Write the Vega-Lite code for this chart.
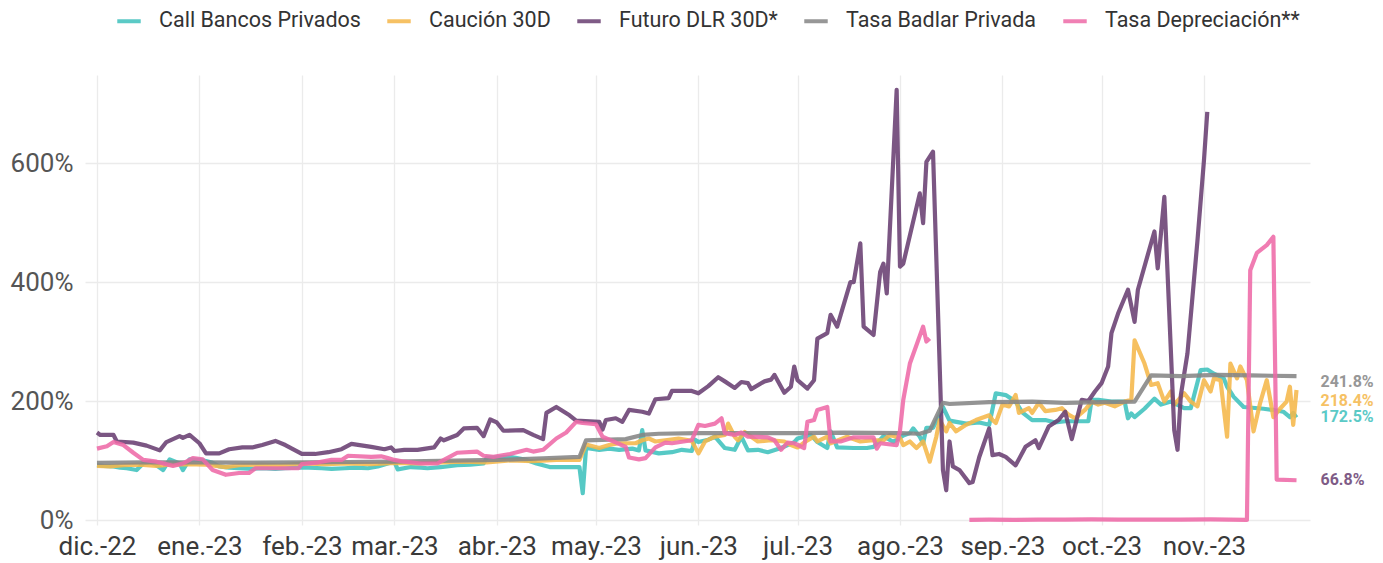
{
"$schema": "https://vega.github.io/schema/vega-lite/v6.json",
"width": 1225, "height": 450,
"autosize": {"type": "none"},
"padding": {"left": 85, "top": 75, "right": 73, "bottom": 38},
"background": "white",
"config": {"font": "Roboto", "view": {"stroke": null}},
"datasets": {
"series": [
{"fecha":"2022-12-01","serie":"Call Bancos Privados","valor":92},
{"fecha":"2022-12-03","serie":"Call Bancos Privados","valor":91},
{"fecha":"2022-12-06","serie":"Call Bancos Privados","valor":90},
{"fecha":"2022-12-08","serie":"Call Bancos Privados","valor":88},
{"fecha":"2022-12-10","serie":"Call Bancos Privados","valor":87},
{"fecha":"2022-12-13","serie":"Call Bancos Privados","valor":84},
{"fecha":"2022-12-15","serie":"Call Bancos Privados","valor":95},
{"fecha":"2022-12-17","serie":"Call Bancos Privados","valor":98},
{"fecha":"2022-12-19","serie":"Call Bancos Privados","valor":92},
{"fecha":"2022-12-21","serie":"Call Bancos Privados","valor":84},
{"fecha":"2022-12-23","serie":"Call Bancos Privados","valor":102},
{"fecha":"2022-12-26","serie":"Call Bancos Privados","valor":95},
{"fecha":"2022-12-27","serie":"Call Bancos Privados","valor":84},
{"fecha":"2022-12-29","serie":"Call Bancos Privados","valor":102},
{"fecha":"2023-01-01","serie":"Call Bancos Privados","valor":101},
{"fecha":"2023-01-03","serie":"Call Bancos Privados","valor":99},
{"fecha":"2023-01-05","serie":"Call Bancos Privados","valor":96},
{"fecha":"2023-01-07","serie":"Call Bancos Privados","valor":90},
{"fecha":"2023-01-10","serie":"Call Bancos Privados","valor":88},
{"fecha":"2023-01-13","serie":"Call Bancos Privados","valor":87},
{"fecha":"2023-01-17","serie":"Call Bancos Privados","valor":86},
{"fecha":"2023-01-20","serie":"Call Bancos Privados","valor":87},
{"fecha":"2023-01-24","serie":"Call Bancos Privados","valor":86},
{"fecha":"2023-01-27","serie":"Call Bancos Privados","valor":87},
{"fecha":"2023-01-31","serie":"Call Bancos Privados","valor":88},
{"fecha":"2023-02-03","serie":"Call Bancos Privados","valor":88},
{"fecha":"2023-02-07","serie":"Call Bancos Privados","valor":87},
{"fecha":"2023-02-10","serie":"Call Bancos Privados","valor":86},
{"fecha":"2023-02-14","serie":"Call Bancos Privados","valor":87},
{"fecha":"2023-02-17","serie":"Call Bancos Privados","valor":88},
{"fecha":"2023-02-21","serie":"Call Bancos Privados","valor":87},
{"fecha":"2023-02-24","serie":"Call Bancos Privados","valor":90},
{"fecha":"2023-02-27","serie":"Call Bancos Privados","valor":95},
{"fecha":"2023-03-01","serie":"Call Bancos Privados","valor":98},
{"fecha":"2023-03-02","serie":"Call Bancos Privados","valor":85},
{"fecha":"2023-03-06","serie":"Call Bancos Privados","valor":89},
{"fecha":"2023-03-09","serie":"Call Bancos Privados","valor":88},
{"fecha":"2023-03-11","serie":"Call Bancos Privados","valor":87},
{"fecha":"2023-03-15","serie":"Call Bancos Privados","valor":89},
{"fecha":"2023-03-20","serie":"Call Bancos Privados","valor":92},
{"fecha":"2023-03-24","serie":"Call Bancos Privados","valor":93},
{"fecha":"2023-03-28","serie":"Call Bancos Privados","valor":95},
{"fecha":"2023-03-29","serie":"Call Bancos Privados","valor":105},
{"fecha":"2023-04-05","serie":"Call Bancos Privados","valor":106},
{"fecha":"2023-04-10","serie":"Call Bancos Privados","valor":101},
{"fecha":"2023-04-13","serie":"Call Bancos Privados","valor":95},
{"fecha":"2023-04-17","serie":"Call Bancos Privados","valor":89},
{"fecha":"2023-04-23","serie":"Call Bancos Privados","valor":89},
{"fecha":"2023-04-26","serie":"Call Bancos Privados","valor":89},
{"fecha":"2023-04-27","serie":"Call Bancos Privados","valor":45},
{"fecha":"2023-04-28","serie":"Call Bancos Privados","valor":121},
{"fecha":"2023-05-02","serie":"Call Bancos Privados","valor":118},
{"fecha":"2023-05-05","serie":"Call Bancos Privados","valor":120},
{"fecha":"2023-05-08","serie":"Call Bancos Privados","valor":118},
{"fecha":"2023-05-12","serie":"Call Bancos Privados","valor":120},
{"fecha":"2023-05-14","serie":"Call Bancos Privados","valor":117},
{"fecha":"2023-05-15","serie":"Call Bancos Privados","valor":151},
{"fecha":"2023-05-16","serie":"Call Bancos Privados","valor":117},
{"fecha":"2023-05-20","serie":"Call Bancos Privados","valor":112},
{"fecha":"2023-05-24","serie":"Call Bancos Privados","valor":114},
{"fecha":"2023-05-27","serie":"Call Bancos Privados","valor":118},
{"fecha":"2023-05-30","serie":"Call Bancos Privados","valor":116},
{"fecha":"2023-05-31","serie":"Call Bancos Privados","valor":135},
{"fecha":"2023-06-01","serie":"Call Bancos Privados","valor":131},
{"fecha":"2023-06-04","serie":"Call Bancos Privados","valor":135},
{"fecha":"2023-06-06","serie":"Call Bancos Privados","valor":140},
{"fecha":"2023-06-09","serie":"Call Bancos Privados","valor":121},
{"fecha":"2023-06-12","serie":"Call Bancos Privados","valor":118},
{"fecha":"2023-06-14","serie":"Call Bancos Privados","valor":140},
{"fecha":"2023-06-16","serie":"Call Bancos Privados","valor":117},
{"fecha":"2023-06-19","serie":"Call Bancos Privados","valor":118},
{"fecha":"2023-06-22","serie":"Call Bancos Privados","valor":114},
{"fecha":"2023-06-26","serie":"Call Bancos Privados","valor":121},
{"fecha":"2023-06-30","serie":"Call Bancos Privados","valor":131},
{"fecha":"2023-07-01","serie":"Call Bancos Privados","valor":137},
{"fecha":"2023-07-05","serie":"Call Bancos Privados","valor":143},
{"fecha":"2023-07-07","serie":"Call Bancos Privados","valor":131},
{"fecha":"2023-07-10","serie":"Call Bancos Privados","valor":121},
{"fecha":"2023-07-11","serie":"Call Bancos Privados","valor":149},
{"fecha":"2023-07-13","serie":"Call Bancos Privados","valor":122},
{"fecha":"2023-07-18","serie":"Call Bancos Privados","valor":121},
{"fecha":"2023-07-22","serie":"Call Bancos Privados","valor":121},
{"fecha":"2023-07-24","serie":"Call Bancos Privados","valor":123},
{"fecha":"2023-07-27","serie":"Call Bancos Privados","valor":141},
{"fecha":"2023-07-30","serie":"Call Bancos Privados","valor":131},
{"fecha":"2023-08-02","serie":"Call Bancos Privados","valor":142},
{"fecha":"2023-08-04","serie":"Call Bancos Privados","valor":146},
{"fecha":"2023-08-05","serie":"Call Bancos Privados","valor":154},
{"fecha":"2023-08-07","serie":"Call Bancos Privados","valor":140},
{"fecha":"2023-08-08","serie":"Call Bancos Privados","valor":129},
{"fecha":"2023-08-09","serie":"Call Bancos Privados","valor":155},
{"fecha":"2023-08-11","serie":"Call Bancos Privados","valor":155},
{"fecha":"2023-08-13","serie":"Call Bancos Privados","valor":177},
{"fecha":"2023-08-14","serie":"Call Bancos Privados","valor":190},
{"fecha":"2023-08-16","serie":"Call Bancos Privados","valor":167},
{"fecha":"2023-08-21","serie":"Call Bancos Privados","valor":162},
{"fecha":"2023-08-25","serie":"Call Bancos Privados","valor":164},
{"fecha":"2023-08-28","serie":"Call Bancos Privados","valor":160},
{"fecha":"2023-08-30","serie":"Call Bancos Privados","valor":213},
{"fecha":"2023-09-02","serie":"Call Bancos Privados","valor":210},
{"fecha":"2023-09-05","serie":"Call Bancos Privados","valor":199},
{"fecha":"2023-09-07","serie":"Call Bancos Privados","valor":181},
{"fecha":"2023-09-10","serie":"Call Bancos Privados","valor":168},
{"fecha":"2023-09-14","serie":"Call Bancos Privados","valor":168},
{"fecha":"2023-09-17","serie":"Call Bancos Privados","valor":164},
{"fecha":"2023-09-20","serie":"Call Bancos Privados","valor":166},
{"fecha":"2023-09-24","serie":"Call Bancos Privados","valor":166},
{"fecha":"2023-09-27","serie":"Call Bancos Privados","valor":166},
{"fecha":"2023-09-28","serie":"Call Bancos Privados","valor":202},
{"fecha":"2023-09-30","serie":"Call Bancos Privados","valor":202},
{"fecha":"2023-10-04","serie":"Call Bancos Privados","valor":199},
{"fecha":"2023-10-08","serie":"Call Bancos Privados","valor":199},
{"fecha":"2023-10-09","serie":"Call Bancos Privados","valor":171},
{"fecha":"2023-10-10","serie":"Call Bancos Privados","valor":179},
{"fecha":"2023-10-11","serie":"Call Bancos Privados","valor":173},
{"fecha":"2023-10-14","serie":"Call Bancos Privados","valor":187},
{"fecha":"2023-10-17","serie":"Call Bancos Privados","valor":204},
{"fecha":"2023-10-19","serie":"Call Bancos Privados","valor":194},
{"fecha":"2023-10-22","serie":"Call Bancos Privados","valor":199},
{"fecha":"2023-10-26","serie":"Call Bancos Privados","valor":188},
{"fecha":"2023-10-28","serie":"Call Bancos Privados","valor":188},
{"fecha":"2023-10-31","serie":"Call Bancos Privados","valor":252},
{"fecha":"2023-11-02","serie":"Call Bancos Privados","valor":253},
{"fecha":"2023-11-04","serie":"Call Bancos Privados","valor":246},
{"fecha":"2023-11-07","serie":"Call Bancos Privados","valor":238},
{"fecha":"2023-11-08","serie":"Call Bancos Privados","valor":224},
{"fecha":"2023-11-10","serie":"Call Bancos Privados","valor":207},
{"fecha":"2023-11-13","serie":"Call Bancos Privados","valor":190},
{"fecha":"2023-11-19","serie":"Call Bancos Privados","valor":187},
{"fecha":"2023-11-22","serie":"Call Bancos Privados","valor":185},
{"fecha":"2023-11-25","serie":"Call Bancos Privados","valor":182},
{"fecha":"2023-11-27","serie":"Call Bancos Privados","valor":173},
{"fecha":"2023-11-28","serie":"Call Bancos Privados","valor":180},
{"fecha":"2023-11-29","serie":"Call Bancos Privados","valor":172.5},

{"fecha":"2022-12-01","serie":"Caución 30D","valor":91},
{"fecha":"2022-12-05","serie":"Caución 30D","valor":90},
{"fecha":"2022-12-09","serie":"Caución 30D","valor":92},
{"fecha":"2022-12-14","serie":"Caución 30D","valor":93},
{"fecha":"2022-12-19","serie":"Caución 30D","valor":91},
{"fecha":"2022-12-23","serie":"Caución 30D","valor":93},
{"fecha":"2022-12-28","serie":"Caución 30D","valor":94},
{"fecha":"2023-01-03","serie":"Caución 30D","valor":93},
{"fecha":"2023-01-09","serie":"Caución 30D","valor":89},
{"fecha":"2023-01-13","serie":"Caución 30D","valor":92},
{"fecha":"2023-01-19","serie":"Caución 30D","valor":93},
{"fecha":"2023-01-25","serie":"Caución 30D","valor":92},
{"fecha":"2023-02-01","serie":"Caución 30D","valor":95},
{"fecha":"2023-02-08","serie":"Caución 30D","valor":94},
{"fecha":"2023-02-15","serie":"Caución 30D","valor":95},
{"fecha":"2023-02-22","serie":"Caución 30D","valor":94},
{"fecha":"2023-03-01","serie":"Caución 30D","valor":96},
{"fecha":"2023-03-08","serie":"Caución 30D","valor":95},
{"fecha":"2023-03-15","serie":"Caución 30D","valor":97},
{"fecha":"2023-03-22","serie":"Caución 30D","valor":98},
{"fecha":"2023-03-29","serie":"Caución 30D","valor":97},
{"fecha":"2023-04-05","serie":"Caución 30D","valor":100},
{"fecha":"2023-04-12","serie":"Caución 30D","valor":99},
{"fecha":"2023-04-19","serie":"Caución 30D","valor":101},
{"fecha":"2023-04-26","serie":"Caución 30D","valor":101},
{"fecha":"2023-04-28","serie":"Caución 30D","valor":127},
{"fecha":"2023-05-02","serie":"Caución 30D","valor":121},
{"fecha":"2023-05-05","serie":"Caución 30D","valor":126},
{"fecha":"2023-05-08","serie":"Caución 30D","valor":129},
{"fecha":"2023-05-13","serie":"Caución 30D","valor":129},
{"fecha":"2023-05-15","serie":"Caución 30D","valor":134},
{"fecha":"2023-05-17","serie":"Caución 30D","valor":137},
{"fecha":"2023-05-19","serie":"Caución 30D","valor":132},
{"fecha":"2023-05-22","serie":"Caución 30D","valor":134},
{"fecha":"2023-05-26","serie":"Caución 30D","valor":137},
{"fecha":"2023-05-30","serie":"Caución 30D","valor":133},
{"fecha":"2023-06-01","serie":"Caución 30D","valor":112},
{"fecha":"2023-06-03","serie":"Caución 30D","valor":132},
{"fecha":"2023-06-06","serie":"Caución 30D","valor":140},
{"fecha":"2023-06-09","serie":"Caución 30D","valor":143},
{"fecha":"2023-06-10","serie":"Caución 30D","valor":162},
{"fecha":"2023-06-12","serie":"Caución 30D","valor":140},
{"fecha":"2023-06-13","serie":"Caución 30D","valor":134},
{"fecha":"2023-06-15","serie":"Caución 30D","valor":148},
{"fecha":"2023-06-19","serie":"Caución 30D","valor":132},
{"fecha":"2023-06-23","serie":"Caución 30D","valor":134},
{"fecha":"2023-06-27","serie":"Caución 30D","valor":132},
{"fecha":"2023-06-29","serie":"Caución 30D","valor":126},
{"fecha":"2023-07-01","serie":"Caución 30D","valor":122},
{"fecha":"2023-07-04","serie":"Caución 30D","valor":134},
{"fecha":"2023-07-06","serie":"Caución 30D","valor":140},
{"fecha":"2023-07-07","serie":"Caución 30D","valor":132},
{"fecha":"2023-07-10","serie":"Caución 30D","valor":140},
{"fecha":"2023-07-11","serie":"Caución 30D","valor":129},
{"fecha":"2023-07-16","serie":"Caución 30D","valor":140},
{"fecha":"2023-07-20","serie":"Caución 30D","valor":132},
{"fecha":"2023-07-24","serie":"Caución 30D","valor":134},
{"fecha":"2023-07-27","serie":"Caución 30D","valor":134},
{"fecha":"2023-07-29","serie":"Caución 30D","valor":143},
{"fecha":"2023-08-01","serie":"Caución 30D","valor":138},
{"fecha":"2023-08-02","serie":"Caución 30D","valor":126},
{"fecha":"2023-08-04","serie":"Caución 30D","valor":132},
{"fecha":"2023-08-06","serie":"Caución 30D","valor":121},
{"fecha":"2023-08-08","serie":"Caución 30D","valor":132},
{"fecha":"2023-08-10","serie":"Caución 30D","valor":98},
{"fecha":"2023-08-12","serie":"Caución 30D","valor":140},
{"fecha":"2023-08-13","serie":"Caución 30D","valor":168},
{"fecha":"2023-08-15","serie":"Caución 30D","valor":149},
{"fecha":"2023-08-16","serie":"Caución 30D","valor":163},
{"fecha":"2023-08-18","serie":"Caución 30D","valor":149},
{"fecha":"2023-08-21","serie":"Caución 30D","valor":160},
{"fecha":"2023-08-24","serie":"Caución 30D","valor":168},
{"fecha":"2023-08-28","serie":"Caución 30D","valor":176},
{"fecha":"2023-08-29","serie":"Caución 30D","valor":168},
{"fecha":"2023-08-30","serie":"Caución 30D","valor":163},
{"fecha":"2023-09-01","serie":"Caución 30D","valor":194},
{"fecha":"2023-09-03","serie":"Caución 30D","valor":191},
{"fecha":"2023-09-05","serie":"Caución 30D","valor":210},
{"fecha":"2023-09-06","serie":"Caución 30D","valor":180},
{"fecha":"2023-09-09","serie":"Caución 30D","valor":188},
{"fecha":"2023-09-10","serie":"Caución 30D","valor":180},
{"fecha":"2023-09-12","serie":"Caución 30D","valor":197},
{"fecha":"2023-09-14","serie":"Caución 30D","valor":183},
{"fecha":"2023-09-17","serie":"Caución 30D","valor":185},
{"fecha":"2023-09-19","serie":"Caución 30D","valor":188},
{"fecha":"2023-09-21","serie":"Caución 30D","valor":177},
{"fecha":"2023-09-23","serie":"Caución 30D","valor":171},
{"fecha":"2023-09-26","serie":"Caución 30D","valor":185},
{"fecha":"2023-09-28","serie":"Caución 30D","valor":199},
{"fecha":"2023-09-30","serie":"Caución 30D","valor":194},
{"fecha":"2023-10-02","serie":"Caución 30D","valor":197},
{"fecha":"2023-10-05","serie":"Caución 30D","valor":191},
{"fecha":"2023-10-08","serie":"Caución 30D","valor":199},
{"fecha":"2023-10-10","serie":"Caución 30D","valor":202},
{"fecha":"2023-10-11","serie":"Caución 30D","valor":302},
{"fecha":"2023-10-14","serie":"Caución 30D","valor":263},
{"fecha":"2023-10-16","serie":"Caución 30D","valor":227},
{"fecha":"2023-10-18","serie":"Caución 30D","valor":230},
{"fecha":"2023-10-20","serie":"Caución 30D","valor":199},
{"fecha":"2023-10-22","serie":"Caución 30D","valor":216},
{"fecha":"2023-10-23","serie":"Caución 30D","valor":194},
{"fecha":"2023-10-26","serie":"Caución 30D","valor":213},
{"fecha":"2023-10-28","serie":"Caución 30D","valor":199},
{"fecha":"2023-10-30","serie":"Caución 30D","valor":191},
{"fecha":"2023-11-01","serie":"Caución 30D","valor":235},
{"fecha":"2023-11-03","serie":"Caución 30D","valor":216},
{"fecha":"2023-11-04","serie":"Caución 30D","valor":238},
{"fecha":"2023-11-06","serie":"Caución 30D","valor":235},
{"fecha":"2023-11-08","serie":"Caución 30D","valor":140},
{"fecha":"2023-11-09","serie":"Caución 30D","valor":263},
{"fecha":"2023-11-11","serie":"Caución 30D","valor":238},
{"fecha":"2023-11-12","serie":"Caución 30D","valor":258},
{"fecha":"2023-11-14","serie":"Caución 30D","valor":235},
{"fecha":"2023-11-16","serie":"Caución 30D","valor":149},
{"fecha":"2023-11-18","serie":"Caución 30D","valor":197},
{"fecha":"2023-11-20","serie":"Caución 30D","valor":235},
{"fecha":"2023-11-22","serie":"Caución 30D","valor":173},
{"fecha":"2023-11-24","serie":"Caución 30D","valor":187},
{"fecha":"2023-11-26","serie":"Caución 30D","valor":199},
{"fecha":"2023-11-27","serie":"Caución 30D","valor":224},
{"fecha":"2023-11-28","serie":"Caución 30D","valor":160},
{"fecha":"2023-11-29","serie":"Caución 30D","valor":218.4},

{"fecha":"2022-12-01","serie":"Futuro DLR 30D*","valor":147},
{"fecha":"2022-12-02","serie":"Futuro DLR 30D*","valor":143},
{"fecha":"2022-12-06","serie":"Futuro DLR 30D*","valor":143},
{"fecha":"2022-12-07","serie":"Futuro DLR 30D*","valor":132},
{"fecha":"2022-12-12","serie":"Futuro DLR 30D*","valor":130},
{"fecha":"2022-12-16","serie":"Futuro DLR 30D*","valor":125},
{"fecha":"2022-12-20","serie":"Futuro DLR 30D*","valor":117},
{"fecha":"2022-12-22","serie":"Futuro DLR 30D*","valor":131},
{"fecha":"2022-12-26","serie":"Futuro DLR 30D*","valor":141},
{"fecha":"2022-12-27","serie":"Futuro DLR 30D*","valor":138},
{"fecha":"2022-12-29","serie":"Futuro DLR 30D*","valor":143},
{"fecha":"2023-01-01","serie":"Futuro DLR 30D*","valor":129},
{"fecha":"2023-01-03","serie":"Futuro DLR 30D*","valor":112},
{"fecha":"2023-01-07","serie":"Futuro DLR 30D*","valor":112},
{"fecha":"2023-01-10","serie":"Futuro DLR 30D*","valor":119},
{"fecha":"2023-01-14","serie":"Futuro DLR 30D*","valor":122},
{"fecha":"2023-01-17","serie":"Futuro DLR 30D*","valor":122},
{"fecha":"2023-01-20","serie":"Futuro DLR 30D*","valor":126},
{"fecha":"2023-01-24","serie":"Futuro DLR 30D*","valor":133},
{"fecha":"2023-01-27","serie":"Futuro DLR 30D*","valor":126},
{"fecha":"2023-02-01","serie":"Futuro DLR 30D*","valor":111},
{"fecha":"2023-02-05","serie":"Futuro DLR 30D*","valor":111},
{"fecha":"2023-02-09","serie":"Futuro DLR 30D*","valor":114},
{"fecha":"2023-02-13","serie":"Futuro DLR 30D*","valor":119},
{"fecha":"2023-02-16","serie":"Futuro DLR 30D*","valor":128},
{"fecha":"2023-02-22","serie":"Futuro DLR 30D*","valor":123},
{"fecha":"2023-02-26","serie":"Futuro DLR 30D*","valor":119},
{"fecha":"2023-02-28","serie":"Futuro DLR 30D*","valor":122},
{"fecha":"2023-03-01","serie":"Futuro DLR 30D*","valor":116},
{"fecha":"2023-03-04","serie":"Futuro DLR 30D*","valor":118},
{"fecha":"2023-03-08","serie":"Futuro DLR 30D*","valor":118},
{"fecha":"2023-03-13","serie":"Futuro DLR 30D*","valor":122},
{"fecha":"2023-03-15","serie":"Futuro DLR 30D*","valor":137},
{"fecha":"2023-03-16","serie":"Futuro DLR 30D*","valor":134},
{"fecha":"2023-03-20","serie":"Futuro DLR 30D*","valor":143},
{"fecha":"2023-03-22","serie":"Futuro DLR 30D*","valor":154},
{"fecha":"2023-03-26","serie":"Futuro DLR 30D*","valor":155},
{"fecha":"2023-03-28","serie":"Futuro DLR 30D*","valor":141},
{"fecha":"2023-03-30","serie":"Futuro DLR 30D*","valor":169},
{"fecha":"2023-04-01","serie":"Futuro DLR 30D*","valor":164},
{"fecha":"2023-04-03","serie":"Futuro DLR 30D*","valor":150},
{"fecha":"2023-04-09","serie":"Futuro DLR 30D*","valor":151},
{"fecha":"2023-04-12","serie":"Futuro DLR 30D*","valor":143},
{"fecha":"2023-04-15","serie":"Futuro DLR 30D*","valor":136},
{"fecha":"2023-04-16","serie":"Futuro DLR 30D*","valor":180},
{"fecha":"2023-04-19","serie":"Futuro DLR 30D*","valor":190},
{"fecha":"2023-04-23","serie":"Futuro DLR 30D*","valor":176},
{"fecha":"2023-04-25","serie":"Futuro DLR 30D*","valor":167},
{"fecha":"2023-05-02","serie":"Futuro DLR 30D*","valor":165},
{"fecha":"2023-05-03","serie":"Futuro DLR 30D*","valor":152},
{"fecha":"2023-05-04","serie":"Futuro DLR 30D*","valor":168},
{"fecha":"2023-05-07","serie":"Futuro DLR 30D*","valor":171},
{"fecha":"2023-05-09","serie":"Futuro DLR 30D*","valor":165},
{"fecha":"2023-05-11","serie":"Futuro DLR 30D*","valor":185},
{"fecha":"2023-05-15","serie":"Futuro DLR 30D*","valor":182},
{"fecha":"2023-05-17","serie":"Futuro DLR 30D*","valor":179},
{"fecha":"2023-05-19","serie":"Futuro DLR 30D*","valor":203},
{"fecha":"2023-05-23","serie":"Futuro DLR 30D*","valor":205},
{"fecha":"2023-05-24","serie":"Futuro DLR 30D*","valor":217},
{"fecha":"2023-05-30","serie":"Futuro DLR 30D*","valor":217},
{"fecha":"2023-06-01","serie":"Futuro DLR 30D*","valor":213},
{"fecha":"2023-06-04","serie":"Futuro DLR 30D*","valor":225},
{"fecha":"2023-06-07","serie":"Futuro DLR 30D*","valor":240},
{"fecha":"2023-06-09","serie":"Futuro DLR 30D*","valor":233},
{"fecha":"2023-06-12","serie":"Futuro DLR 30D*","valor":222},
{"fecha":"2023-06-14","serie":"Futuro DLR 30D*","valor":232},
{"fecha":"2023-06-16","serie":"Futuro DLR 30D*","valor":230},
{"fecha":"2023-06-17","serie":"Futuro DLR 30D*","valor":220},
{"fecha":"2023-06-21","serie":"Futuro DLR 30D*","valor":233},
{"fecha":"2023-06-23","serie":"Futuro DLR 30D*","valor":236},
{"fecha":"2023-06-24","serie":"Futuro DLR 30D*","valor":244},
{"fecha":"2023-06-27","serie":"Futuro DLR 30D*","valor":214},
{"fecha":"2023-06-29","serie":"Futuro DLR 30D*","valor":224},
{"fecha":"2023-06-30","serie":"Futuro DLR 30D*","valor":258},
{"fecha":"2023-07-01","serie":"Futuro DLR 30D*","valor":235},
{"fecha":"2023-07-04","serie":"Futuro DLR 30D*","valor":221},
{"fecha":"2023-07-06","serie":"Futuro DLR 30D*","valor":235},
{"fecha":"2023-07-07","serie":"Futuro DLR 30D*","valor":305},
{"fecha":"2023-07-10","serie":"Futuro DLR 30D*","valor":314},
{"fecha":"2023-07-11","serie":"Futuro DLR 30D*","valor":345},
{"fecha":"2023-07-13","serie":"Futuro DLR 30D*","valor":325},
{"fecha":"2023-07-17","serie":"Futuro DLR 30D*","valor":400},
{"fecha":"2023-07-18","serie":"Futuro DLR 30D*","valor":400},
{"fecha":"2023-07-20","serie":"Futuro DLR 30D*","valor":465},
{"fecha":"2023-07-21","serie":"Futuro DLR 30D*","valor":325},
{"fecha":"2023-07-24","serie":"Futuro DLR 30D*","valor":311},
{"fecha":"2023-07-26","serie":"Futuro DLR 30D*","valor":417},
{"fecha":"2023-07-27","serie":"Futuro DLR 30D*","valor":431},
{"fecha":"2023-07-28","serie":"Futuro DLR 30D*","valor":381},
{"fecha":"2023-07-31","serie":"Futuro DLR 30D*","valor":723},
{"fecha":"2023-08-01","serie":"Futuro DLR 30D*","valor":426},
{"fecha":"2023-08-02","serie":"Futuro DLR 30D*","valor":431},
{"fecha":"2023-08-07","serie":"Futuro DLR 30D*","valor":549},
{"fecha":"2023-08-08","serie":"Futuro DLR 30D*","valor":499},
{"fecha":"2023-08-09","serie":"Futuro DLR 30D*","valor":602},
{"fecha":"2023-08-11","serie":"Futuro DLR 30D*","valor":619},
{"fecha":"2023-08-14","serie":"Futuro DLR 30D*","valor":84},
{"fecha":"2023-08-15","serie":"Futuro DLR 30D*","valor":50},
{"fecha":"2023-08-16","serie":"Futuro DLR 30D*","valor":132},
{"fecha":"2023-08-17","serie":"Futuro DLR 30D*","valor":90},
{"fecha":"2023-08-19","serie":"Futuro DLR 30D*","valor":84},
{"fecha":"2023-08-22","serie":"Futuro DLR 30D*","valor":62},
{"fecha":"2023-08-23","serie":"Futuro DLR 30D*","valor":64},
{"fecha":"2023-08-25","serie":"Futuro DLR 30D*","valor":106},
{"fecha":"2023-08-28","serie":"Futuro DLR 30D*","valor":154},
{"fecha":"2023-08-29","serie":"Futuro DLR 30D*","valor":109},
{"fecha":"2023-08-31","serie":"Futuro DLR 30D*","valor":111},
{"fecha":"2023-09-02","serie":"Futuro DLR 30D*","valor":106},
{"fecha":"2023-09-05","serie":"Futuro DLR 30D*","valor":92},
{"fecha":"2023-09-08","serie":"Futuro DLR 30D*","valor":123},
{"fecha":"2023-09-11","serie":"Futuro DLR 30D*","valor":134},
{"fecha":"2023-09-12","serie":"Futuro DLR 30D*","valor":121},
{"fecha":"2023-09-15","serie":"Futuro DLR 30D*","valor":157},
{"fecha":"2023-09-18","serie":"Futuro DLR 30D*","valor":168},
{"fecha":"2023-09-20","serie":"Futuro DLR 30D*","valor":182},
{"fecha":"2023-09-22","serie":"Futuro DLR 30D*","valor":136},
{"fecha":"2023-09-25","serie":"Futuro DLR 30D*","valor":202},
{"fecha":"2023-09-27","serie":"Futuro DLR 30D*","valor":200},
{"fecha":"2023-09-29","serie":"Futuro DLR 30D*","valor":216},
{"fecha":"2023-10-01","serie":"Futuro DLR 30D*","valor":230},
{"fecha":"2023-10-03","serie":"Futuro DLR 30D*","valor":258},
{"fecha":"2023-10-04","serie":"Futuro DLR 30D*","valor":314},
{"fecha":"2023-10-06","serie":"Futuro DLR 30D*","valor":347},
{"fecha":"2023-10-09","serie":"Futuro DLR 30D*","valor":387},
{"fecha":"2023-10-11","serie":"Futuro DLR 30D*","valor":333},
{"fecha":"2023-10-12","serie":"Futuro DLR 30D*","valor":387},
{"fecha":"2023-10-17","serie":"Futuro DLR 30D*","valor":485},
{"fecha":"2023-10-18","serie":"Futuro DLR 30D*","valor":423},
{"fecha":"2023-10-20","serie":"Futuro DLR 30D*","valor":543},
{"fecha":"2023-10-23","serie":"Futuro DLR 30D*","valor":151},
{"fecha":"2023-10-24","serie":"Futuro DLR 30D*","valor":118},
{"fecha":"2023-10-25","serie":"Futuro DLR 30D*","valor":210},
{"fecha":"2023-10-27","serie":"Futuro DLR 30D*","valor":280},
{"fecha":"2023-10-30","serie":"Futuro DLR 30D*","valor":468},
{"fecha":"2023-11-01","serie":"Futuro DLR 30D*","valor":605},
{"fecha":"2023-11-02","serie":"Futuro DLR 30D*","valor":686},

{"fecha":"2022-12-01","serie":"Tasa Badlar Privada","valor":96},
{"fecha":"2022-12-15","serie":"Tasa Badlar Privada","valor":97},
{"fecha":"2023-01-01","serie":"Tasa Badlar Privada","valor":97},
{"fecha":"2023-01-15","serie":"Tasa Badlar Privada","valor":96.5},
{"fecha":"2023-02-01","serie":"Tasa Badlar Privada","valor":97},
{"fecha":"2023-02-15","serie":"Tasa Badlar Privada","valor":97.5},
{"fecha":"2023-03-01","serie":"Tasa Badlar Privada","valor":98},
{"fecha":"2023-03-15","serie":"Tasa Badlar Privada","valor":99.5},
{"fecha":"2023-04-01","serie":"Tasa Badlar Privada","valor":101},
{"fecha":"2023-04-15","serie":"Tasa Badlar Privada","valor":103.5},
{"fecha":"2023-04-26","serie":"Tasa Badlar Privada","valor":106},
{"fecha":"2023-04-28","serie":"Tasa Badlar Privada","valor":134},
{"fecha":"2023-05-10","serie":"Tasa Badlar Privada","valor":136},
{"fecha":"2023-05-15","serie":"Tasa Badlar Privada","valor":143},
{"fecha":"2023-05-20","serie":"Tasa Badlar Privada","valor":145},
{"fecha":"2023-06-01","serie":"Tasa Badlar Privada","valor":146},
{"fecha":"2023-06-15","serie":"Tasa Badlar Privada","valor":146},
{"fecha":"2023-07-01","serie":"Tasa Badlar Privada","valor":146},
{"fecha":"2023-07-15","serie":"Tasa Badlar Privada","valor":147},
{"fecha":"2023-08-01","serie":"Tasa Badlar Privada","valor":146},
{"fecha":"2023-08-07","serie":"Tasa Badlar Privada","valor":145},
{"fecha":"2023-08-10","serie":"Tasa Badlar Privada","valor":150},
{"fecha":"2023-08-14","serie":"Tasa Badlar Privada","valor":197},
{"fecha":"2023-08-16","serie":"Tasa Badlar Privada","valor":195},
{"fecha":"2023-08-28","serie":"Tasa Badlar Privada","valor":198},
{"fecha":"2023-09-10","serie":"Tasa Badlar Privada","valor":199},
{"fecha":"2023-09-20","serie":"Tasa Badlar Privada","valor":197},
{"fecha":"2023-10-01","serie":"Tasa Badlar Privada","valor":198},
{"fecha":"2023-10-11","serie":"Tasa Badlar Privada","valor":199},
{"fecha":"2023-10-16","serie":"Tasa Badlar Privada","valor":243},
{"fecha":"2023-10-25","serie":"Tasa Badlar Privada","valor":242},
{"fecha":"2023-11-05","serie":"Tasa Badlar Privada","valor":244},
{"fecha":"2023-11-15","serie":"Tasa Badlar Privada","valor":243},
{"fecha":"2023-11-29","serie":"Tasa Badlar Privada","valor":241.8},

{"fecha":"2022-12-01","serie":"Tasa Depreciación**","valor":120,"tramo":1},
{"fecha":"2022-12-04","serie":"Tasa Depreciación**","valor":124,"tramo":1},
{"fecha":"2022-12-06","serie":"Tasa Depreciación**","valor":131,"tramo":1},
{"fecha":"2022-12-09","serie":"Tasa Depreciación**","valor":126,"tramo":1},
{"fecha":"2022-12-12","serie":"Tasa Depreciación**","valor":113,"tramo":1},
{"fecha":"2022-12-15","serie":"Tasa Depreciación**","valor":101,"tramo":1},
{"fecha":"2022-12-19","serie":"Tasa Depreciación**","valor":98,"tramo":1},
{"fecha":"2022-12-24","serie":"Tasa Depreciación**","valor":91,"tramo":1},
{"fecha":"2022-12-27","serie":"Tasa Depreciación**","valor":95,"tramo":1},
{"fecha":"2022-12-30","serie":"Tasa Depreciación**","valor":104,"tramo":1},
{"fecha":"2023-01-02","serie":"Tasa Depreciación**","valor":102,"tramo":1},
{"fecha":"2023-01-05","serie":"Tasa Depreciación**","valor":84,"tramo":1},
{"fecha":"2023-01-09","serie":"Tasa Depreciación**","valor":76,"tramo":1},
{"fecha":"2023-01-13","serie":"Tasa Depreciación**","valor":79,"tramo":1},
{"fecha":"2023-01-16","serie":"Tasa Depreciación**","valor":79,"tramo":1},
{"fecha":"2023-01-18","serie":"Tasa Depreciación**","valor":87,"tramo":1},
{"fecha":"2023-01-23","serie":"Tasa Depreciación**","valor":87,"tramo":1},
{"fecha":"2023-01-31","serie":"Tasa Depreciación**","valor":87,"tramo":1},
{"fecha":"2023-02-01","serie":"Tasa Depreciación**","valor":94,"tramo":1},
{"fecha":"2023-02-06","serie":"Tasa Depreciación**","valor":97,"tramo":1},
{"fecha":"2023-02-10","serie":"Tasa Depreciación**","valor":101,"tramo":1},
{"fecha":"2023-02-13","serie":"Tasa Depreciación**","valor":101,"tramo":1},
{"fecha":"2023-02-15","serie":"Tasa Depreciación**","valor":108,"tramo":1},
{"fecha":"2023-02-22","serie":"Tasa Depreciación**","valor":106,"tramo":1},
{"fecha":"2023-02-25","serie":"Tasa Depreciación**","valor":107,"tramo":1},
{"fecha":"2023-02-27","serie":"Tasa Depreciación**","valor":104,"tramo":1},
{"fecha":"2023-03-01","serie":"Tasa Depreciación**","valor":101,"tramo":1},
{"fecha":"2023-03-04","serie":"Tasa Depreciación**","valor":98,"tramo":1},
{"fecha":"2023-03-09","serie":"Tasa Depreciación**","valor":95,"tramo":1},
{"fecha":"2023-03-14","serie":"Tasa Depreciación**","valor":95,"tramo":1},
{"fecha":"2023-03-16","serie":"Tasa Depreciación**","valor":101,"tramo":1},
{"fecha":"2023-03-20","serie":"Tasa Depreciación**","valor":113,"tramo":1},
{"fecha":"2023-03-26","serie":"Tasa Depreciación**","valor":115,"tramo":1},
{"fecha":"2023-03-28","serie":"Tasa Depreciación**","valor":108,"tramo":1},
{"fecha":"2023-03-31","serie":"Tasa Depreciación**","valor":106,"tramo":1},
{"fecha":"2023-04-05","serie":"Tasa Depreciación**","valor":111,"tramo":1},
{"fecha":"2023-04-10","serie":"Tasa Depreciación**","valor":118,"tramo":1},
{"fecha":"2023-04-12","serie":"Tasa Depreciación**","valor":115,"tramo":1},
{"fecha":"2023-04-15","serie":"Tasa Depreciación**","valor":118,"tramo":1},
{"fecha":"2023-04-19","serie":"Tasa Depreciación**","valor":137,"tramo":1},
{"fecha":"2023-04-22","serie":"Tasa Depreciación**","valor":147,"tramo":1},
{"fecha":"2023-04-25","serie":"Tasa Depreciación**","valor":165,"tramo":1},
{"fecha":"2023-04-27","serie":"Tasa Depreciación**","valor":163,"tramo":1},
{"fecha":"2023-05-01","serie":"Tasa Depreciación**","valor":161,"tramo":1},
{"fecha":"2023-05-03","serie":"Tasa Depreciación**","valor":140,"tramo":1},
{"fecha":"2023-05-08","serie":"Tasa Depreciación**","valor":128,"tramo":1},
{"fecha":"2023-05-10","serie":"Tasa Depreciación**","valor":123,"tramo":1},
{"fecha":"2023-05-11","serie":"Tasa Depreciación**","valor":105,"tramo":1},
{"fecha":"2023-05-14","serie":"Tasa Depreciación**","valor":102,"tramo":1},
{"fecha":"2023-05-16","serie":"Tasa Depreciación**","valor":104,"tramo":1},
{"fecha":"2023-05-19","serie":"Tasa Depreciación**","valor":122,"tramo":1},
{"fecha":"2023-05-22","serie":"Tasa Depreciación**","valor":130,"tramo":1},
{"fecha":"2023-05-24","serie":"Tasa Depreciación**","valor":129,"tramo":1},
{"fecha":"2023-05-30","serie":"Tasa Depreciación**","valor":134,"tramo":1},
{"fecha":"2023-06-01","serie":"Tasa Depreciación**","valor":160,"tramo":1},
{"fecha":"2023-06-03","serie":"Tasa Depreciación**","valor":158,"tramo":1},
{"fecha":"2023-06-06","serie":"Tasa Depreciación**","valor":162,"tramo":1},
{"fecha":"2023-06-08","serie":"Tasa Depreciación**","valor":171,"tramo":1},
{"fecha":"2023-06-09","serie":"Tasa Depreciación**","valor":146,"tramo":1},
{"fecha":"2023-06-12","serie":"Tasa Depreciación**","valor":143,"tramo":1},
{"fecha":"2023-06-14","serie":"Tasa Depreciación**","valor":147,"tramo":1},
{"fecha":"2023-06-16","serie":"Tasa Depreciación**","valor":140,"tramo":1},
{"fecha":"2023-06-22","serie":"Tasa Depreciación**","valor":139,"tramo":1},
{"fecha":"2023-06-24","serie":"Tasa Depreciación**","valor":134,"tramo":1},
{"fecha":"2023-06-26","serie":"Tasa Depreciación**","valor":118,"tramo":1},
{"fecha":"2023-06-28","serie":"Tasa Depreciación**","valor":130,"tramo":1},
{"fecha":"2023-06-30","serie":"Tasa Depreciación**","valor":129,"tramo":1},
{"fecha":"2023-07-03","serie":"Tasa Depreciación**","valor":121,"tramo":1},
{"fecha":"2023-07-04","serie":"Tasa Depreciación**","valor":165,"tramo":1},
{"fecha":"2023-07-06","serie":"Tasa Depreciación**","valor":168,"tramo":1},
{"fecha":"2023-07-07","serie":"Tasa Depreciación**","valor":185,"tramo":1},
{"fecha":"2023-07-10","serie":"Tasa Depreciación**","valor":190,"tramo":1},
{"fecha":"2023-07-11","serie":"Tasa Depreciación**","valor":132,"tramo":1},
{"fecha":"2023-07-14","serie":"Tasa Depreciación**","valor":132,"tramo":1},
{"fecha":"2023-07-18","serie":"Tasa Depreciación**","valor":139,"tramo":1},
{"fecha":"2023-07-24","serie":"Tasa Depreciación**","valor":139,"tramo":1},
{"fecha":"2023-07-25","serie":"Tasa Depreciación**","valor":120,"tramo":1},
{"fecha":"2023-07-26","serie":"Tasa Depreciación**","valor":129,"tramo":1},
{"fecha":"2023-07-31","serie":"Tasa Depreciación**","valor":126,"tramo":1},
{"fecha":"2023-08-01","serie":"Tasa Depreciación**","valor":150,"tramo":1},
{"fecha":"2023-08-02","serie":"Tasa Depreciación**","valor":202,"tramo":1},
{"fecha":"2023-08-04","serie":"Tasa Depreciación**","valor":263,"tramo":1},
{"fecha":"2023-08-08","serie":"Tasa Depreciación**","valor":325,"tramo":1},
{"fecha":"2023-08-09","serie":"Tasa Depreciación**","valor":300,"tramo":1},
{"fecha":"2023-08-10","serie":"Tasa Depreciación**","valor":305,"tramo":1},
{"fecha":"2023-08-22","serie":"Tasa Depreciación**","valor":0.3,"tramo":2},
{"fecha":"2023-08-28","serie":"Tasa Depreciación**","valor":0.6,"tramo":2},
{"fecha":"2023-09-04","serie":"Tasa Depreciación**","valor":0.2,"tramo":2},
{"fecha":"2023-09-12","serie":"Tasa Depreciación**","valor":0.5,"tramo":2},
{"fecha":"2023-09-20","serie":"Tasa Depreciación**","valor":0.8,"tramo":2},
{"fecha":"2023-09-28","serie":"Tasa Depreciación**","valor":1.0,"tramo":2},
{"fecha":"2023-10-06","serie":"Tasa Depreciación**","valor":0.6,"tramo":2},
{"fecha":"2023-10-15","serie":"Tasa Depreciación**","valor":0.8,"tramo":2},
{"fecha":"2023-10-25","serie":"Tasa Depreciación**","valor":0.5,"tramo":2},
{"fecha":"2023-11-03","serie":"Tasa Depreciación**","valor":0.9,"tramo":2},
{"fecha":"2023-11-14","serie":"Tasa Depreciación**","valor":0.2,"tramo":2},
{"fecha":"2023-11-15","serie":"Tasa Depreciación**","valor":420,"tramo":2},
{"fecha":"2023-11-17","serie":"Tasa Depreciación**","valor":449,"tramo":2},
{"fecha":"2023-11-20","serie":"Tasa Depreciación**","valor":462,"tramo":2},
{"fecha":"2023-11-22","serie":"Tasa Depreciación**","valor":476,"tramo":2},
{"fecha":"2023-11-23","serie":"Tasa Depreciación**","valor":68,"tramo":2},
{"fecha":"2023-11-29","serie":"Tasa Depreciación**","valor":66.8,"tramo":2}
],
"etiquetas": [
{"fecha":"2023-11-29","serie":"Tasa Badlar Privada","valor":241.8,"etiqueta":"241.8%"},
{"fecha":"2023-11-29","serie":"Caución 30D","valor":218.4,"etiqueta":"218.4%"},
{"fecha":"2023-11-29","serie":"Call Bancos Privados","valor":172.5,"etiqueta":"172.5%"},
{"fecha":"2023-11-29","serie":"Futuro DLR 30D*","valor":66.8,"etiqueta":"66.8%"}
]
},
"layer": [
{
"data": {"name": "series"},
"mark": {"type": "line", "strokeWidth": 4.2, "opacity": 0.88, "strokeJoin": "round", "strokeCap": "butt"},
"encoding": {
"x": {"field": "fecha", "type": "temporal",
 "scale": {"type": "utc", "domain": [{"year": 2022, "month": 11, "date": 27, "hours": 9, "utc": true}, {"year": 2023, "month": 12, "date": 3, "hours": 2, "utc": true}]},
 "axis": {"title": null, "domain": false, "ticks": false, "grid": true, "gridColor": "#ebebeb", "gridWidth": 1.3,
  "values": [{"year":2022,"month":12,"date":1,"utc":true},{"year":2023,"month":1,"date":1,"utc":true},{"year":2023,"month":2,"date":1,"utc":true},{"year":2023,"month":3,"date":1,"utc":true},{"year":2023,"month":4,"date":1,"utc":true},{"year":2023,"month":5,"date":1,"utc":true},{"year":2023,"month":6,"date":1,"utc":true},{"year":2023,"month":7,"date":1,"utc":true},{"year":2023,"month":8,"date":1,"utc":true},{"year":2023,"month":9,"date":1,"utc":true},{"year":2023,"month":10,"date":1,"utc":true},{"year":2023,"month":11,"date":1,"utc":true}],
  "labelExpr": "['ene.','feb.','mar.','abr.','may.','jun.','jul.','ago.','sep.','oct.','nov.','dic.'][utcmonth(datum.value)] + '-' + utcFormat(datum.value, '%y')",
  "labelFont": "Roboto", "labelFontSize": 26, "labelColor": "#3a3a3a", "labelPadding": 8, "labelOverlap": false, "labelFlush": false}},
"y": {"field": "valor", "type": "quantitative",
 "scale": {"domain": [-8.4, 748], "nice": false, "zero": false},
 "axis": {"title": null, "domain": false, "ticks": false, "grid": true, "gridColor": "#ebebeb", "gridWidth": 1.3,
  "values": [0, 200, 400, 600], "labelExpr": "datum.value + '%'",
  "labelFont": "Roboto", "labelFontSize": 26, "labelColor": "#555555", "labelPadding": 12}},
"color": {"field": "serie", "type": "nominal",
 "scale": {"domain": ["Call Bancos Privados", "Caución 30D", "Futuro DLR 30D*", "Tasa Badlar Privada", "Tasa Depreciación**"],
  "range": ["#3fc1bd", "#f5b74a", "#693f72", "#858585", "#ee6aa7"]},
 "legend": {"title": null, "orient": "none", "legendX": 30, "legendY": -68, "direction": "horizontal",
  "symbolType": "stroke", "symbolStrokeWidth": 4, "symbolSize": 550, "symbolOpacity": 0.88,
  "labelFont": "Roboto", "labelFontSize": 21.5, "labelColor": "#333333", "labelOffset": 16, "columnPadding": 18, "labelLimit": 500}},
"detail": {"field": "tramo", "type": "nominal"}
}
},
{
"data": {"name": "etiquetas"},
"transform": [{"filter": "datum.serie == 'Tasa Badlar Privada'"}],
"mark": {"type": "text", "align": "left", "baseline": "middle", "dx": 24, "dy": 6, "fontWeight": "bold", "fontSize": 16, "font": "Roboto", "opacity": 0.85},
"encoding": {
"x": {"field": "fecha", "type": "temporal"},
"y": {"field": "valor", "type": "quantitative"},
"text": {"field": "etiqueta", "type": "nominal"},
"color": {"field": "serie", "type": "nominal"}
}
},
{
"data": {"name": "etiquetas"},
"transform": [{"filter": "datum.serie == 'Caución 30D'"}],
"mark": {"type": "text", "align": "left", "baseline": "middle", "dx": 24, "dy": 11, "fontWeight": "bold", "fontSize": 16, "font": "Roboto", "opacity": 0.85},
"encoding": {
"x": {"field": "fecha", "type": "temporal"},
"y": {"field": "valor", "type": "quantitative"},
"text": {"field": "etiqueta", "type": "nominal"},
"color": {"field": "serie", "type": "nominal"}
}
},
{
"data": {"name": "etiquetas"},
"transform": [{"filter": "datum.serie == 'Call Bancos Privados' || datum.serie == 'Futuro DLR 30D*'"}],
"mark": {"type": "text", "align": "left", "baseline": "middle", "dx": 24, "dy": 0, "fontWeight": "bold", "fontSize": 16, "font": "Roboto", "opacity": 0.85},
"encoding": {
"x": {"field": "fecha", "type": "temporal"},
"y": {"field": "valor", "type": "quantitative"},
"text": {"field": "etiqueta", "type": "nominal"},
"color": {"field": "serie", "type": "nominal"}
}
}
]
}
